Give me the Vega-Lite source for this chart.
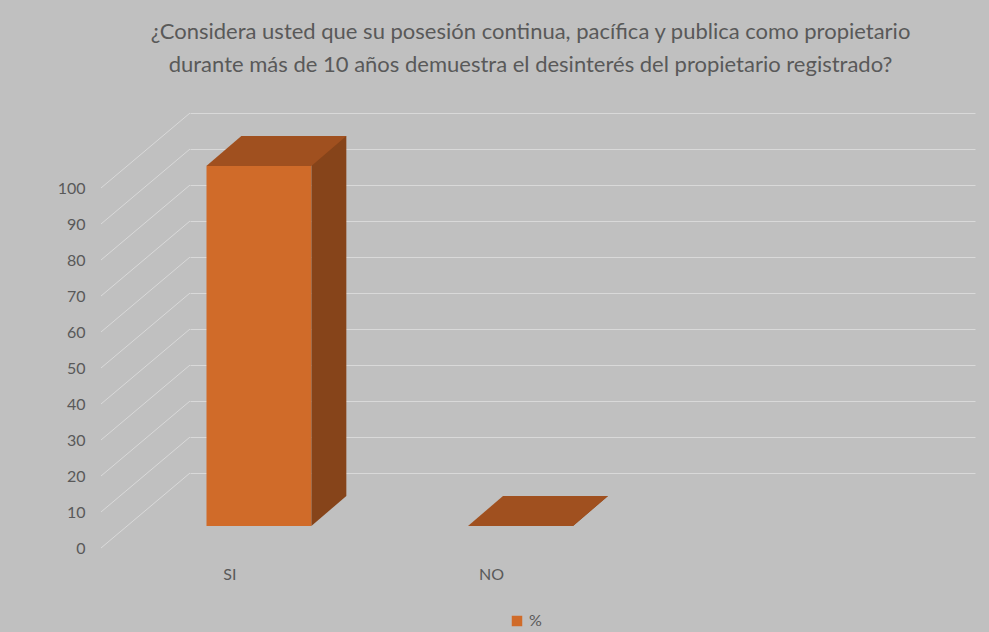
{
  "$schema": "https://vega.github.io/schema/vega-lite/v6.json",
  "width": 785,
  "height": 360,
  "autosize": {"type": "none"},
  "padding": {"left": 190, "top": 113, "right": 14, "bottom": 159},
  "background": "#c0c0c0",
  "config": {
    "view": {"stroke": null},
    "font": "Lato",
    "axisY": {"labelOverlap": false, "labelBound": false}
  },
  "title": {
    "text": [
      "¿Considera usted que su posesión continua, pacífica y publica como propietario",
      "durante más de 10 años demuestra el desinterés del propietario registrado?"
    ],
    "font": "Lato",
    "fontSize": 22,
    "fontWeight": "normal",
    "color": "#595959",
    "anchor": "middle",
    "frame": "group",
    "dx": -52,
    "offset": 36,
    "lineHeight": 33
  },
  "datasets": {
    "respuestas": [
      {"respuesta": "SI", "porcentaje": 100, "serie": "%"},
      {"respuesta": "NO", "porcentaje": 0, "serie": "%"}
    ],
    "marcas": [
      {"v": 0}, {"v": 10}, {"v": 20}, {"v": 30}, {"v": 40}, {"v": 50},
      {"v": 60}, {"v": 70}, {"v": 80}, {"v": 90}, {"v": 100}
    ]
  },
  "resolve": {"scale": {"x": "independent"}},
  "layer": [
    {
      "data": {"name": "marcas"},
      "mark": {"type": "rule", "color": "#d9d9d9", "strokeWidth": 1, "x2Offset": -89, "y2Offset": 75},
      "encoding": {
        "x": {"datum": 0, "type": "quantitative", "scale": {"domain": [0, 1]}, "axis": null},
        "x2": {"datum": 0},
        "y": {"field": "v", "type": "quantitative", "scale": {"domain": [0, 100], "nice": false},
          "axis": {
            "title": null, "grid": true, "gridColor": "#d9d9d9", "gridWidth": 1,
            "domain": false, "ticks": false, "values": [0,10,20,30,40,50,60,70,80,90,100],
            "labelOverlap": false,
            "labelOffset": 75, "offset": 100, "labelPadding": 5,
            "labelFont": "Lato", "labelFontSize": 16, "labelColor": "#595959"
          }
        },
        "y2": {"field": "v"}
      }
    },
    {
      "data": {"name": "respuestas"},
      "layer": [
        {
          "mark": {"type": "bar", "color": "#86441a", "width": 35, "xOffset": 8, "yOffset": 23, "y2Offset": 23},
          "encoding": {
            "x": {"field": "respuesta", "type": "nominal", "sort": null,
              "scale": {"domain": ["SI", "NO", " "], "paddingInner": 0.6, "paddingOuter": 0.3},
              "axis": {
                "title": null, "domain": false, "ticks": false, "labelAngle": 0,
                "labelOffset": -91, "offset": 88, "labelPadding": 5,
                "labelFont": "Lato", "labelFontSize": 16, "labelColor": "#595959"
              }
            },
            "y": {"field": "porcentaje", "type": "quantitative",
              "axis": {
                "title": null, "grid": true, "gridColor": "#d9d9d9", "gridWidth": 1,
                "domain": false, "ticks": false, "values": [0,10,20,30,40,50,60,70,80,90,100],
                "labelOverlap": false,
                "labelOffset": 75, "offset": 100, "labelPadding": 5,
                "labelFont": "Lato", "labelFontSize": 16, "labelColor": "#595959"
              }
            }
          }
        },
        {
          "mark": {"type": "point", "shape": "M52.5,0L87.5,-30L52.5,-30Z", "size": 4, "filled": true, "opacity": 1, "color": "#86441a", "xOffset": -62, "yOffset": 53},
          "encoding": {
            "x": {"field": "respuesta", "type": "nominal"},
            "y": {"datum": 0, "type": "quantitative",
              "axis": {
                "title": null, "grid": true, "gridColor": "#d9d9d9", "gridWidth": 1,
                "domain": false, "ticks": false, "values": [0,10,20,30,40,50,60,70,80,90,100],
                "labelOverlap": false,
                "labelOffset": 75, "offset": 100, "labelPadding": 5,
                "labelFont": "Lato", "labelFontSize": 16, "labelColor": "#595959"
              }
            }
          }
        },
        {
          "mark": {"type": "bar", "xOffset": -62, "yOffset": 53, "y2Offset": 53},
          "encoding": {
            "x": {"field": "respuesta", "type": "nominal"},
            "y": {"field": "porcentaje", "type": "quantitative",
              "axis": {
                "title": null, "grid": true, "gridColor": "#d9d9d9", "gridWidth": 1,
                "domain": false, "ticks": false, "values": [0,10,20,30,40,50,60,70,80,90,100],
                "labelOverlap": false,
                "labelOffset": 75, "offset": 100, "labelPadding": 5,
                "labelFont": "Lato", "labelFontSize": 16, "labelColor": "#595959"
              }
            },
            "color": {"field": "serie", "type": "nominal",
              "scale": {"range": ["#d06b29"]},
              "legend": {
                "title": null, "orient": "none", "legendX": 319, "legendY": 500,
                "symbolType": "square", "symbolSize": 110, "symbolStrokeWidth": 0,
                "labelFont": "Lato", "labelFontSize": 16, "labelColor": "#595959", "labelOffset": 4
              }
            }
          }
        },
        {
          "mark": {"type": "point", "shape": "M-52.5,0L52.5,0L87.5,-30L-17.5,-30Z", "size": 4, "filled": true, "opacity": 1, "color": "#a0501f", "xOffset": -62, "yOffset": 53},
          "encoding": {
            "x": {"field": "respuesta", "type": "nominal"},
            "y": {"field": "porcentaje", "type": "quantitative",
              "axis": {
                "title": null, "grid": true, "gridColor": "#d9d9d9", "gridWidth": 1,
                "domain": false, "ticks": false, "values": [0,10,20,30,40,50,60,70,80,90,100],
                "labelOverlap": false,
                "labelOffset": 75, "offset": 100, "labelPadding": 5,
                "labelFont": "Lato", "labelFontSize": 16, "labelColor": "#595959"
              }
            }
          }
        }
      ]
    }
  ]
}
